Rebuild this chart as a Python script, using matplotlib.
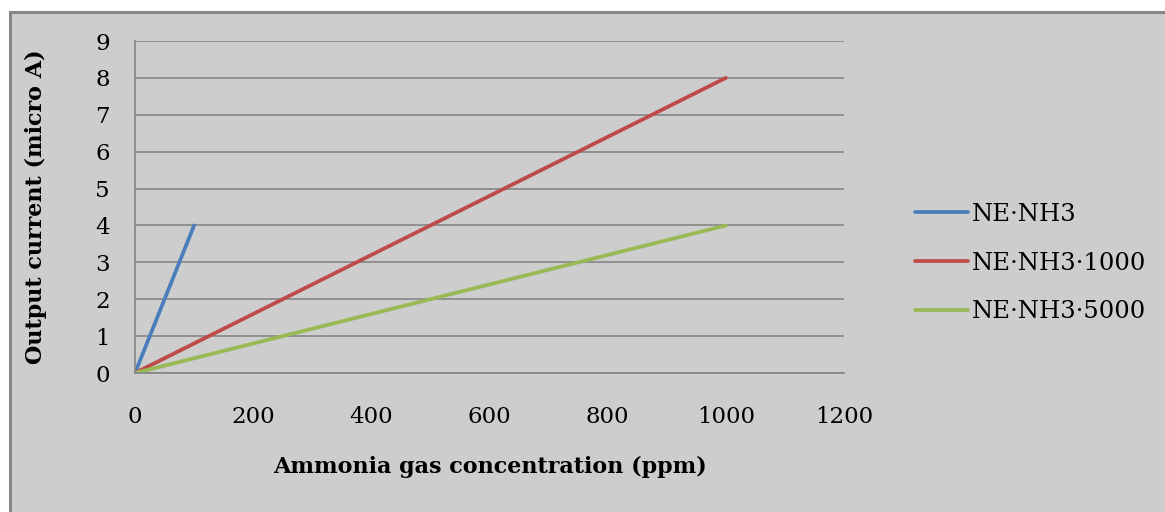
import matplotlib
matplotlib.use("Agg")
import matplotlib.pyplot as plt
from matplotlib.patches import Rectangle

# Data
series_names = ["NE·NH3", "NE·NH3·1000", "NE·NH3·5000"]
x_ne = [0, 100]
y_ne = [0, 4]
x_1000 = [0, 1000]
y_1000 = [0, 8]
x_5000 = [0, 1000]
y_5000 = [0, 4]
colors = ["#4A7EBB", "#BE4B48", "#98B954"]
xticks = [0, 200, 400, 600, 800, 1000, 1200]
yticks = list(range(0, 10))

plt.rcParams['font.family'] = ['DejaVu Serif']

W, H = 1165, 512
fig = plt.figure(figsize=(W / 100, H / 100), dpi=100)
fig.patch.set_facecolor("white")

# chart background frame
bg = Rectangle((10 / W, -0.02), 1 - 10 / W + 0.02, 1 - 12 / H + 0.02, transform=fig.transFigure,
               facecolor="#CDCDCD", edgecolor="#868686", linewidth=2.2, zorder=-10)
fig.add_artist(bg)

ax = fig.add_axes([135 / W, 1 - 373 / H, (844 - 135) / W, (373 - 41) / H])
ax.set_facecolor("none")
ax.set_zorder(1)

for (xs, ys), name, c in zip([(x_ne, y_ne), (x_1000, y_1000), (x_5000, y_5000)], series_names, colors):
    ax.plot(xs, ys, color=c, linewidth=2.7, label=name, solid_capstyle="round")

ax.set_xlim(0, 1200)
ax.set_ylim(0, 9)
ax.set_xticks(xticks)
ax.set_yticks(yticks)
ax.grid(axis="y", color="#868686", linewidth=1.2)
ax.set_axisbelow(True)
for s in ["top", "right"]:
    ax.spines[s].set_visible(False)
ax.spines["left"].set_color("#868686")
ax.spines["bottom"].set_color("#868686")
ax.spines["left"].set_linewidth(1.2)
ax.spines["bottom"].set_linewidth(1.2)
ax.tick_params(axis="both", length=0, labelsize=16.5)
ax.tick_params(axis="y", pad=18)
ax.tick_params(axis="x", pad=24)

ax.set_xlabel("Ammonia gas concentration (ppm)", fontsize=16, fontweight="bold", labelpad=20)
ax.set_ylabel("Output current (micro A)", fontsize=16, fontweight="bold", labelpad=35)

leg = fig.legend(loc="center left", bbox_to_anchor=(915 / W, 1 - 263 / H), frameon=False,
                 fontsize=17.5, handlelength=2.2, handletextpad=0.15, labelspacing=1.05,
                 borderaxespad=0, borderpad=0)

fig.savefig("out.png", dpi=100, facecolor=fig.get_facecolor())
